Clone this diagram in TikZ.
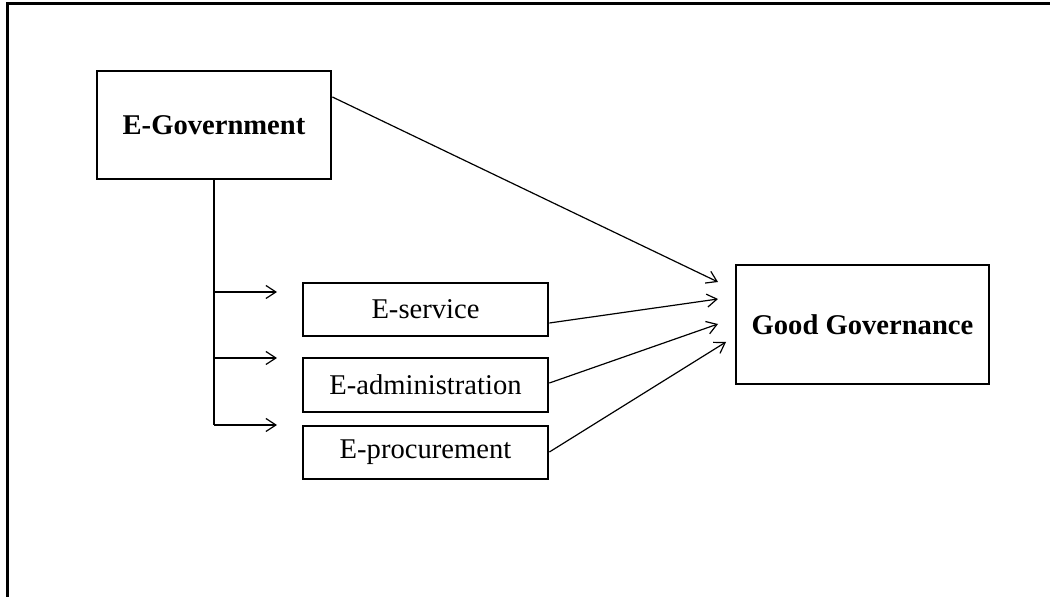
\documentclass[tikz,border=0pt]{standalone}
\usepackage{fontspec}
\setmainfont{Liberation Serif}
\usetikzlibrary{arrows.meta}

\begin{document}
\begin{tikzpicture}[x=0.5pt,y=-0.5pt,
    box/.style={draw,line width=1.4pt,inner sep=0pt,font=\fontsize{14.3}{17}\selectfont},
    bbox/.style={box,font=\fontsize{14.3}{17}\selectfont\bfseries},
    sub/.style={box,minimum width=122.5pt,minimum height=26.5pt},
    link/.style={line width=0.6pt},
    arr/.style={link,-{Straight Barb[length=5pt,width=6.5pt]}}]
    \useasboundingbox (0,0) rectangle (1050,597);
    \draw[line width=1.5pt] (7,597) -- (7,4) -- (1050,4);

    \node[bbox,minimum width=117pt,minimum height=54pt] (egov) at (214,125) {E-Government};
    \node[sub] (serv) at (425.5,309.5) {E-service};
    \node[sub,minimum height=27pt] (admin) at (425.5,385) {E-administration};
    \node[sub] (proc) at (425.5,452.5) {E-procurement};
    \node[bbox,minimum width=126.5pt,minimum height=59.5pt] (gg) at (862.5,324.5) {Good Governance};

    % branch from E-Government
    \coordinate (b1) at (214,292);
    \coordinate (b2) at (214,358);
    \coordinate (b3) at (214,425);
    \coordinate (t1) at (277,292);
    \coordinate (t2) at (277,358);
    \coordinate (t3) at (277,425);
    \draw[link] (egov.south) -- (b3);
    \draw[arr] (b1) -- (t1);
    \draw[arr] (b2) -- (t2);
    \draw[arr] (b3) -- (t3);

    % arrows into Good Governance
    \coordinate (g1) at (718,282);
    \coordinate (g2) at (718,299);
    \coordinate (g3) at (718,324);
    \coordinate (g4) at (726,342);
    \path
	([yshift=14pt]egov.east) [arr] edge (g1)
	([yshift=-6.75pt]serv.east) [arr] edge (g2)
	([yshift=1pt]admin.east) [arr] edge (g3)
	([yshift=0.25pt]proc.east) [arr] edge (g4);
\end{tikzpicture}
\end{document}
